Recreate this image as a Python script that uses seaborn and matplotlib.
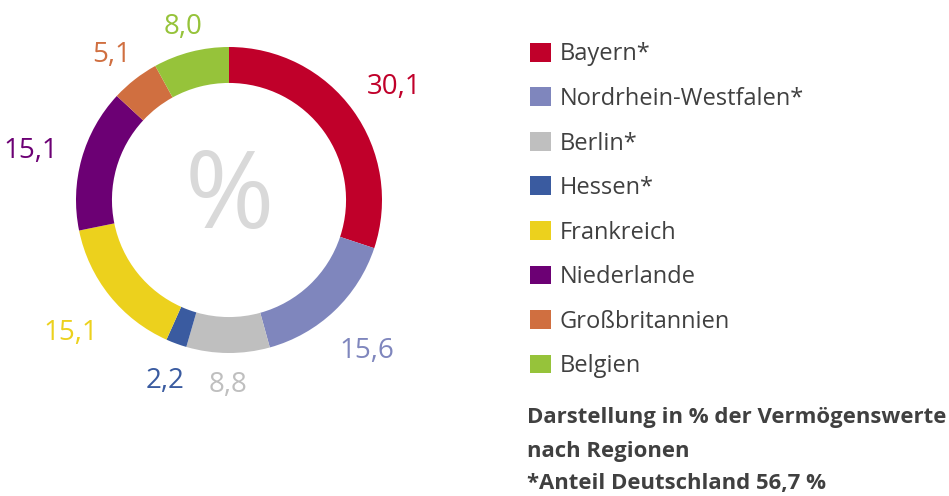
import numpy as np
import matplotlib
matplotlib.use("Agg")
import matplotlib.pyplot as plt
import seaborn as sns

regions = ["Bayern*", "Nordrhein-Westfalen*", "Berlin*", "Hessen*",
           "Frankreich", "Niederlande", "Großbritannien", "Belgien"]
shares = [30.1, 15.6, 8.8, 2.2, 15.1, 15.1, 5.1, 8.0]
colors = ["#C0002A", "#7F86BD", "#BFBFBF", "#3A5BA0",
          "#ECD11D", "#6C0074", "#D06F40", "#96C33A"]
notes = ["Darstellung in % der Vermögenswerte", "nach Regionen",
         "*Anteil Deutschland 56,7 %"]

sns.set_theme(style="white")
plt.rcParams["font.family"] = ["Open Sans", "DejaVu Sans"]
palette = sns.color_palette(colors)

W, H = 949, 496
fig = plt.figure(figsize=(W / 100, H / 100), dpi=100)

# donut: centre (229, 200) px, outer radius 153 px
R = 153
cx, cy = 229, 200
span = 1.5
size = 2 * span * R
ax = fig.add_axes([(cx - size / 2) / W, (H - cy - size / 2) / H, size / W, size / H])
wedges, _ = ax.pie(shares, colors=palette, startangle=90, counterclock=False,
                   radius=1, wedgeprops=dict(width=0.235, linewidth=0))
ax.set_xlim(-span, span)
ax.set_ylim(-span, span)
ax.set_aspect("equal")
ax.axis("off")

# value labels outside each wedge
for w, val, col in zip(wedges, shares, palette):
    ang = np.deg2rad((w.theta1 + w.theta2) / 2)
    x, y = np.cos(ang), np.sin(ang)
    half_w = 0.15 if val < 10 else 0.22
    d = 1.12 + half_w * abs(x) + 0.05 * abs(y)
    # top labels sit a little lower, bottom ones a little further out
    ax.text(d * x, d * y - 0.04, f"{val:.1f}".replace(".", ","), color=col,
            fontsize=20, ha="center", va="center")

ax.text(0, 0, "%", color="#D9D9D9", fontsize=78, ha="center", va="center")

fig.legend(wedges, regions, loc="upper left", bbox_to_anchor=(521 / W, 1 - 33 / H),
           frameon=False, fontsize=17, labelcolor="#404040",
           handlelength=0.85, handleheight=0.85, handletextpad=0.4,
           labelspacing=0.87, borderaxespad=0)

for i, line in enumerate(notes):
    fig.text(527 / W, 1 - (418 + 33 * i) / H, line, fontsize=15.9,
             fontweight="bold", color="#404040", ha="left", va="center")

fig.savefig("out.png", dpi=100)
